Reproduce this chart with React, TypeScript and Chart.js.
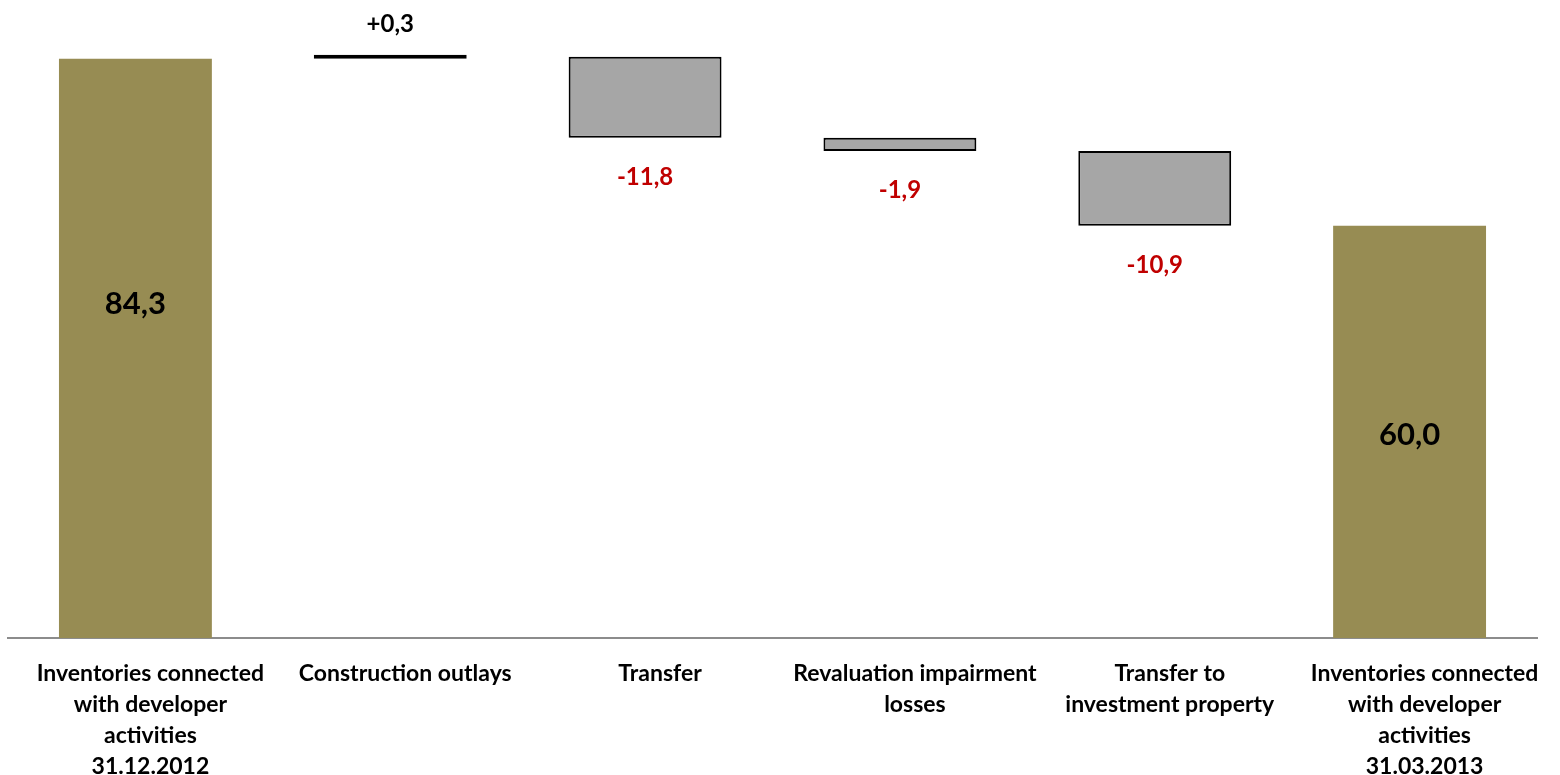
import React, { useEffect, useRef } from "react";
import { Chart, registerables } from "chart.js";

Chart.register(...registerables);

const categories: string[][] = [
  ["Inventories connected", "with developer", "activities", "31.12.2012"],
  ["Construction outlays"],
  ["Transfer"],
  ["Revaluation impairment", "losses"],
  ["Transfer to", "investment property"],
  ["Inventories connected", "with developer", "activities", "31.03.2013"],
];
const openingValue = 84.3;
const changes = [0.3, -11.8, -1.9, -10.9];
const closingValue = 60.0;
const valueLabels = ["84,3", "+0,3", "-11,8", "-1,9", "-10,9", "60,0"];

const TOTAL_COLOR = "#978C53";
const CHANGE_COLOR = "#A6A6A6";
const POSITIVE_COLOR = "#1A1A1A";

function buildRanges(): [number, number][] {
  const out: [number, number][] = [[0, openingValue]];
  let run = openingValue;
  for (const c of changes) {
    const next = Math.round((run + c) * 10) / 10;
    out.push([run, next]);
    run = next;
  }
  out.push([0, closingValue]);
  return out;
}

const labelPlugin = {
  id: "wfLabels",
  afterDatasetsDraw(chart: any) {
    const ctx = chart.ctx;
    const meta = chart.getDatasetMeta(0);
    const last = meta.data.length - 1;
    meta.data.forEach((el: any, i: number) => {
      const top = Math.min(el.y, el.base);
      const bottom = Math.max(el.y, el.base);
      ctx.save();
      ctx.textAlign = "center";
      ctx.textBaseline = "middle";
      if (i === 0 || i === last) {
        ctx.font = "bold 31px Lato";
        ctx.fillStyle = "#000000";
        const mid = (top + bottom) / 2;
        const off = i === 0 ? -44 : 3;
        ctx.fillText(valueLabels[i], el.x, mid + off);
      } else {
        ctx.font = "bold 24px Lato";
        const v = changes[i - 1];
        if (v >= 0) {
          ctx.fillStyle = "#000000";
          ctx.fillText(valueLabels[i], el.x, top - 31);
        } else {
          ctx.fillStyle = "#C00000";
          ctx.fillText(valueLabels[i], el.x, bottom + 39);
        }
      }
      ctx.restore();
    });
  },
};

export default function App() {
  const ref = useRef<HTMLCanvasElement | null>(null);
  useEffect(() => {
    if (!ref.current) return;
    const ranges = buildRanges();
    const n = ranges.length;
    const isTotal = (i: number) => i === 0 || i === n - 1;
    const isPositive = (i: number) => !isTotal(i) && changes[i - 1] >= 0;
    const bg = ranges.map((_, i) => (isTotal(i) ? TOTAL_COLOR : isPositive(i) ? POSITIVE_COLOR : CHANGE_COLOR));
    const bc = ranges.map((_, i) => (isTotal(i) ? TOTAL_COLOR : "#000000"));
    const bw = ranges.map((_, i) => (isTotal(i) ? 0 : 2));
    const chart = new Chart(ref.current, {
      type: "bar",
      data: {
        labels: categories,
        datasets: [
          {
            data: ranges as any,
            backgroundColor: bg,
            borderColor: bc,
            borderWidth: bw,
            borderSkipped: false,
            barPercentage: 0.6,
            categoryPercentage: 1,
            minBarLength: 4,
          },
        ],
      },
      options: {
        animation: false,
        responsive: true,
        maintainAspectRatio: false,
        layout: { padding: { left: 8, right: 23, top: 8, bottom: 0 } },
        plugins: {
          legend: { display: false },
          tooltip: { enabled: false },
          title: { display: false },
        },
        scales: {
          y: {
            display: false,
            min: 0,
            max: 91.7,
          },
          x: {
            afterFit: (scale: any) => {
              scale.height = 137;
            },
            grid: { display: false, drawTicks: false, tickLength: 0 },
            border: { display: true, color: "#8C8C8C", width: 2 },
            ticks: {
              color: "#000000",
              padding: 20,
              labelOffset: 15,
              maxRotation: 0,
              autoSkip: false,
              font: { family: "Lato", weight: "bold", size: 23, lineHeight: 1.35 },
            },
          },
        },
      },
      plugins: [labelPlugin],
    });
    return () => chart.destroy();
  }, []);
  return (
    <div style={{ position: "fixed", left: 0, top: 0, width: 1560, height: 775, background: "#ffffff" }}>
      <canvas ref={ref} />
    </div>
  );
}
